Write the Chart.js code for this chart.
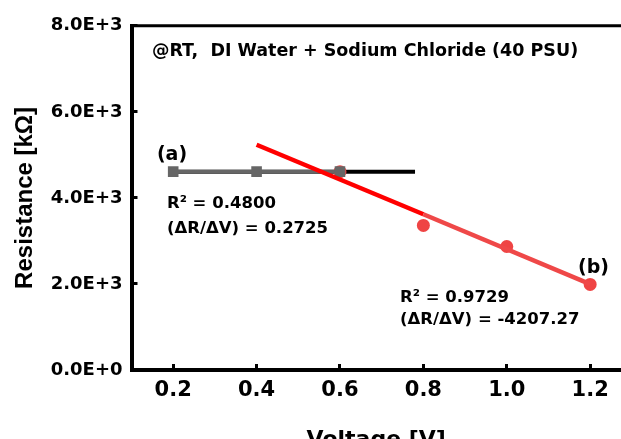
<!DOCTYPE html>
<html>
<head>
<meta charset="utf-8">
<script src="https://cdn.jsdelivr.net/npm/chart.js@4"></script>
<style>
  body { margin: 0; background: #fff; overflow: hidden; }
  canvas { display: block; }
</style>
</head>
<body>
<canvas id="chart" width="621" height="439"></canvas>
<script>
// values
const xTicks = [0.2, 0.4, 0.6, 0.8, 1.0, 1.2];
const yTicks = [0, 2000, 4000, 6000, 8000];

// (a) series, grey squares
const seriesAV = [0.2, 0.4, 0.6];
const seriesAR = [4610, 4610, 4610];
// (a) fit, black
const fitAV = [0.2, 0.78];
const fitAR = [4610, 4610];

// (b) series, red dots
const seriesBV = [0.6, 0.8, 1.0, 1.2];
const seriesBR = [4610, 3360, 2870, 1990];
// (b) fit, red
const fitBV = [0.4, 0.8, 1.2];
const fitBR = [5235, 3620, 1995];

// text notes: [text, voltage, resistance, font size]
const notes = [
  ["@RT,  DI Water + Sodium Chloride (40 PSU)", 0.149, 7400, 17.5],
  ["(a)", 0.161, 4990, 19],
  ["R\u00B2 = 0.4800", 0.185, 3860, 16.5],
  ["(\u0394R/\u0394V) = 0.2725", 0.185, 3290, 16.5],
  ["(b)", 1.171, 2370, 19],
  ["R\u00B2 = 0.9729", 0.744, 1680, 16.5],
  ["(\u0394R/\u0394V) = -4207.27", 0.744, 1170, 16.5],
];

const pts = (xs, ys) => xs.map((x, i) => ({ x: x, y: ys[i] }));
const boldFont = "'DejaVu Sans', sans-serif";

const notesPlugin = {
  id: "notes",
  afterDatasetsDraw(chart) {
    const { ctx, chartArea, scales } = chart;
    ctx.save();
    // top frame line
    ctx.strokeStyle = "#000";
    ctx.lineWidth = 3;
    ctx.beginPath();
    ctx.moveTo(chartArea.left, chartArea.top);
    ctx.lineTo(chartArea.right, chartArea.top);
    ctx.stroke();

    ctx.fillStyle = "#000";
    ctx.textAlign = "left";
    ctx.textBaseline = "middle";
    notes.forEach(([text, v, r, size]) => {
      ctx.font = "bold " + size + "px " + boldFont;
      ctx.fillText(text, scales.x.getPixelForValue(v), scales.y.getPixelForValue(r));
    });
    ctx.restore();
  },
};

new Chart(document.getElementById("chart"), {
  type: "scatter",
  data: {
    datasets: [
      {
        data: pts(fitBV, fitBR),
        showLine: true,
        borderColor: "#ff0000",
        borderWidth: 4.5,
        pointRadius: 0,
        segment: {
          borderColor: (c) => (c.p0DataIndex === 0 ? "#ff0000" : "#ef4848"),
        },
      },
      {
        data: pts(seriesAV, seriesAR),
        showLine: true,
        borderColor: "#666666",
        backgroundColor: "#666666",
        borderWidth: 4,
        pointStyle: "rect",
        pointRadius: 7.5,
        pointBorderWidth: 0,
      },
      {
        data: pts(seriesBV, seriesBR),
        showLine: false,
        borderColor: "#ef4444",
        backgroundColor: "#ef4444",
        pointRadius: 6.5,
        pointBorderWidth: 0,
      },
      {
        data: pts(fitAV, fitAR),
        showLine: true,
        borderColor: "#000000",
        borderWidth: 4,
        pointRadius: 0,
      },
    ],
  },
  options: {
    responsive: false,
    animation: false,
    devicePixelRatio: 1,
    layout: { autoPadding: false, padding: { top: 22, right: 0, left: 0, bottom: 0 } },
    plugins: {
      legend: { display: false },
      tooltip: { enabled: false },
    },
    scales: {
      x: {
        type: "linear",
        min: 0.1,
        max: 1.274,
        afterBuildTicks: (scale) => {
          scale.ticks = xTicks.map((v) => ({ value: v }));
        },
        afterFit: (scale) => {
          scale.height = 69;
          scale.paddingLeft = 0;
          scale.paddingRight = 0;
        },
        border: { display: true, color: "#000", width: 4 },
        grid: {
          drawOnChartArea: false,
          drawTicks: true,
          tickLength: -6,
          tickWidth: 3,
          tickColor: "#000",
        },
        ticks: {
          color: "#000",
          padding: 14,
          maxRotation: 0,
          font: { family: boldFont, size: 21, weight: "bold" },
          callback: (v) => v.toFixed(1),
        },
        title: {
          display: true,
          text: "Voltage [V]",
          color: "#000",
          font: { family: boldFont, size: 22, weight: "bold" },
          padding: { top: 0, bottom: -14 },
        },
      },
      y: {
        type: "linear",
        min: 0,
        max: 8000,
        afterBuildTicks: (scale) => {
          scale.ticks = yTicks.map((v) => ({ value: v }));
        },
        afterFit: (scale) => {
          scale.width = 131.5;
        },
        border: { display: true, color: "#000", width: 4 },
        grid: {
          drawOnChartArea: false,
          drawTicks: true,
          tickLength: -6,
          tickWidth: 3,
          tickColor: "#000",
        },
        ticks: {
          color: "#000",
          padding: 15,
          font: { family: boldFont, size: 18, weight: "bold" },
          callback: (v) => v.toExponential(1).toUpperCase(),
        },
        title: {
          display: true,
          text: "Resistance [k\u03A9]",
          color: "#000",
          font: { family: "'Liberation Sans', Arial, sans-serif", size: 24, weight: "bold" },
          padding: { top: 11, bottom: 0 },
        },
      },
    },
  },
  plugins: [notesPlugin],
});
</script>
</body>
</html>
